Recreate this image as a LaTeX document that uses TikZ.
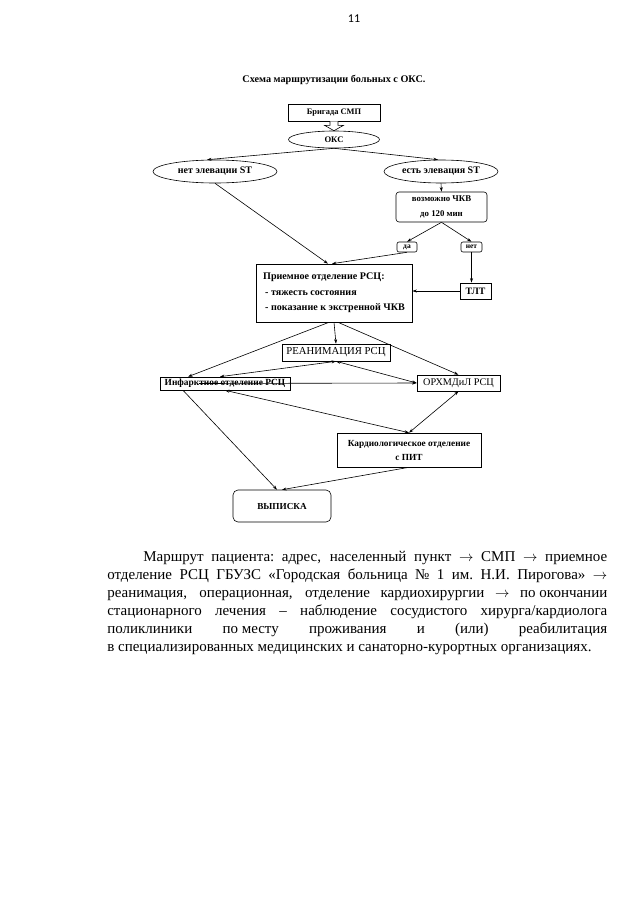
\documentclass[tikz,border=0pt]{standalone}
\usepackage{fontspec}
\setmainfont{Liberation Serif}
\newfontfamily\pagefont{Carlito}
\usetikzlibrary{calc,shapes.geometric,arrows.meta}
\newcommand\labfont[2]{\bfseries\fontsize{#1}{#2}\selectfont}
\newcommand\goesto{$\rightarrow$}

\begin{document}
\begin{tikzpicture}[x=1pt,y=-1pt,line width=0.6pt,font=\labfont{9.5}{14.5}]
\tikzstyle{box}=[draw,inner sep=0,align=center]
\tikzstyle{round box}=[box,rounded corners=3]
\tikzstyle{oval}=[draw,ellipse,inner sep=0,align=center]
\tikzstyle{arr}=[-{Stealth[length=4.5pt,width=3pt]}]
\tikzstyle{twoway}=[{Stealth[length=4.5pt,width=3pt]}-{Stealth[length=4.5pt,width=3pt]}]

\useasboundingbox (0,0) rectangle (630,905);

% page number and heading
\node (page) at (354,19) {\pagefont\mdseries\fontsize{12}{12}\selectfont 11};
\node (title) at (334,80) {\labfont{10.2}{12}Схема маршрутизации больных с ОКС.};

\node (brig)[box,minimum width=92,minimum height=17,font=\labfont{8.4}{10}] at (334,112.5) {Бригада СМП};
\node (oks)[oval,minimum width=91,minimum height=17,font=\labfont{8.6}{10}] at (334,139.5) {ОКС};
\node (noST)[oval,minimum width=124,minimum height=23,font=\labfont{10}{10}] at (215,171.5) {нет элевации ST};
\node (ST)[oval,minimum width=114,minimum height=23,font=\labfont{10}{10}] at (441,171.5) {есть элевация ST};
\node (pci)[round box,minimum width=91,minimum height=30,font=\labfont{8.8}{14.3}] at (441.5,207) {возможно ЧКВ\\до 120 мин};
\node (yes)[round box,rounded corners=2,minimum width=20,minimum height=10,font=\labfont{7.5}{8}] at (407,247) {да};
\node (no)[round box,rounded corners=2,minimum width=21,minimum height=10,font=\labfont{7.5}{8}] at (471.5,247) {нет};
\node (priem)[box,align=left,minimum width=156,minimum height=58,font=\labfont{10.1}{15.5}] at (334,293)
    {Приемное отделение РСЦ:\\\hspace*{2pt}- тяжесть состояния\\\hspace*{2pt}- показание к экстренной ЧКВ};
\node (tlt)[box,minimum width=31,minimum height=16,font=\labfont{9.8}{10}] at (475.5,291) {ТЛТ};
\node (reanim)[box,minimum width=108,minimum height=17,font=\mdseries\fontsize{10.7}{10.7}\selectfont] at (336,352.5) {РЕАНИМАЦИЯ РСЦ};
\node (infarct)[box,minimum width=130,minimum height=13,font=\labfont{9.4}{10}] at (225,383.5) {Инфарктное отделение РСЦ};
\node (orkh)[box,minimum width=83,minimum height=16,font=\mdseries\fontsize{10.2}{10.2}\selectfont] at (458.5,383) {ОРХМДиЛ РСЦ};
\node (cardio)[box,minimum width=144,minimum height=34,font=\labfont{9.3}{14}] at (409,450) {Кардиологическое отделение\\с ПИТ};
\node (vypiska)[round box,rounded corners=5,minimum width=98,minimum height=32,font=\labfont{9.2}{10}] at (282,506) {ВЫПИСКА};

% hollow arrow from the team to ACS
\draw[fill=white] ($(brig.south)+(-4,0)$) -- ($(brig.south)+(-4,4)$) -- ($(brig.south)+(-9.5,4)$)
    -- (oks.north) -- ($(brig.south)+(9.5,4)$) -- ($(brig.south)+(4,4)$) -- ($(brig.south)+(4,0)$);

\draw[arr] (oks.south) -- ([xshift=-8]noST.north);
\draw[arr] (oks.south) -- ([xshift=-3]ST.north);
\draw[arr] (ST.south) -- (pci.north);
\draw[arr] (pci.south) -- (yes.north);
\draw[arr] (pci.south) -- (no.north);
\draw[arr] (noST.south) -- ([xshift=-6]priem.north);
\draw[arr] (yes.south) -- ([xshift=-2]priem.north);
\draw[arr] (no.south) -- (no.south |- tlt.north);
\draw[arr] (tlt.west) -- (tlt.west -| priem.east);

% from the admission ward
\draw[arr] (priem.south) -- (reanim.north);
\draw[arr] ([xshift=-5]priem.south) -- ([xshift=-37]infarct.north);
\draw[arr] ([xshift=4]priem.south) -- (orkh.north);
\draw[twoway] ([xshift=-5]infarct.north) -- (reanim.south);
\draw[twoway] (reanim.south) -- (orkh.west);
\draw[arr] ($(infarct.west)!0.3!(infarct.east)$) -- (orkh.west);
\draw[twoway] (infarct.south) -- (cardio.north);
\draw[twoway] (orkh.south) -- (cardio.north);
\draw[arr] ([xshift=-42]infarct.south) -- ([xshift=-5]vypiska.north);
\draw[arr] (cardio.south) -- (vypiska.north);

% route text
\node (route)[anchor=north west,inner sep=0,text width=500pt,
    font=\mdseries\fontsize{15}{17.9}\selectfont] at (107,551) {%
\spaceskip=0.25em plus 1fil\relax
\makebox[500pt][s]{\hspace*{36pt}Маршрут пациента: адрес, населенный пункт \goesto{} СМП \goesto{} приемное}\\
\makebox[500pt][s]{отделение РСЦ ГБУЗС «Городская больница № 1 им. Н.И. Пирогова» \goesto}\\
\makebox[500pt][s]{реанимация, операционная, отделение кардиохирургии \goesto{} по\hspace{0.25em}окончании}\\
\makebox[500pt][s]{стационарного лечения – наблюдение сосудистого хирурга/кардиолога}\\
\makebox[500pt][s]{поликлиники по\hspace{0.25em}месту проживания и (или) реабилитация}\\
\makebox[500pt][l]{\spaceskip=0.25em\relax в специализированных медицинских и санаторно-курортных организациях.}};

\end{tikzpicture}
\end{document}
